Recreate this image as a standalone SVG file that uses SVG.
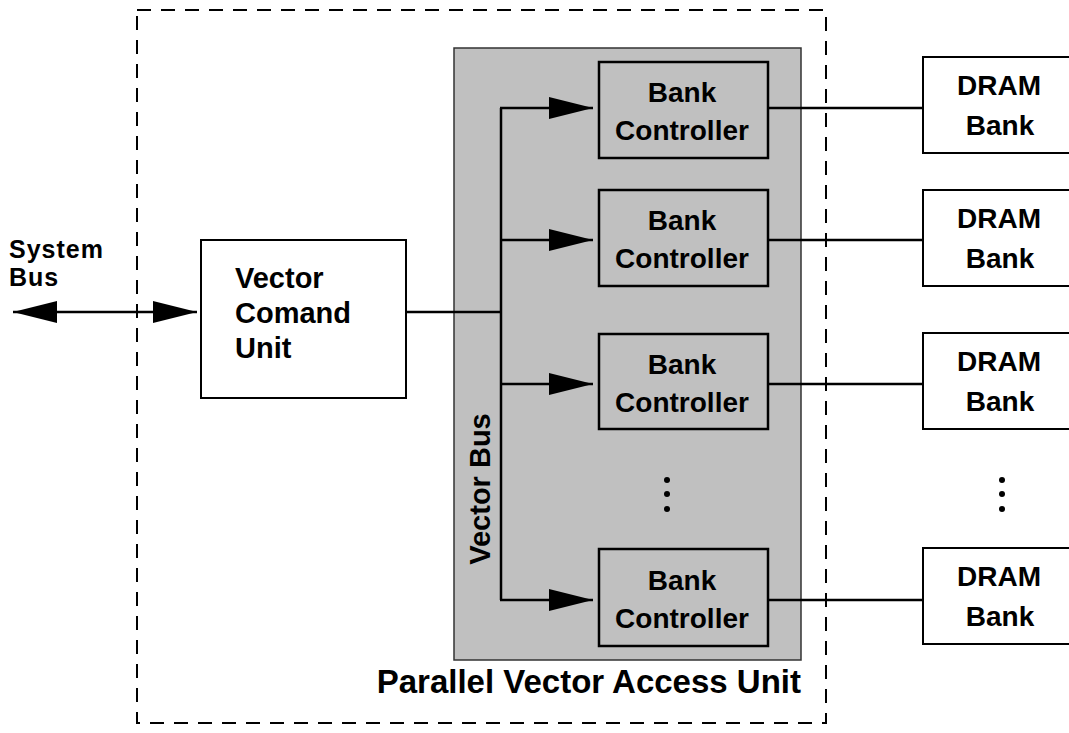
<svg xmlns="http://www.w3.org/2000/svg" width="1069" height="733" viewBox="0 0 1069 733">
<defs>
<style>
text{font-family:"Liberation Sans",Arial,sans-serif;font-weight:bold;fill:#000}
.box{fill:#fff;stroke:#000;stroke-width:2}
.bc{fill:#c0c0c0;stroke:#000;stroke-width:2.5}
.ln{fill:none;stroke:#000;stroke-width:2.5}
.t28{font-size:28px;text-anchor:middle}
.sb{font-size:25px;letter-spacing:1px}
</style>
<marker id="ah" viewBox="0 0 44 22" refX="44" refY="11" markerWidth="44" markerHeight="22" markerUnits="userSpaceOnUse" orient="auto-start-reverse">
<path d="M0,0 L44,11 L0,22 Z" fill="#000"/>
</marker>
</defs>
<rect x="0" y="0" width="1069" height="733" fill="#fff"/>
<rect id="boundary" x="137" y="10" width="689" height="713" fill="none" stroke="#000" stroke-width="2" stroke-dasharray="14,10"/>
<g id="pvau">
<rect x="454" y="48" width="347" height="612" fill="#c0c0c0" stroke="#333" stroke-width="1.5"/>
<text x="801" y="693" style="font-size:33px;text-anchor:end">Parallel Vector Access Unit</text>
</g>
<g id="vcu">
<rect class="box" x="201" y="240" width="205" height="158"/>
<text x="235" y="288" style="font-size:29px">Vector</text>
<text x="235" y="323" style="font-size:29px">Comand</text>
<text x="235" y="358" style="font-size:29px">Unit</text>
</g>
<g id="sysbus">
<text class="sb" x="9" y="258">System</text>
<text class="sb" x="9" y="286">Bus</text>
</g>
<g id="bc1"><rect class="bc" x="599" y="62" width="169" height="96"/><text class="t28" x="682" y="102">Bank</text><text class="t28" x="682" y="140">Controller</text></g>
<g id="bc2"><rect class="bc" x="599" y="190" width="169" height="96"/><text class="t28" x="682" y="230">Bank</text><text class="t28" x="682" y="268">Controller</text></g>
<g id="bc3"><rect class="bc" x="599" y="334" width="169" height="95"/><text class="t28" x="682" y="374">Bank</text><text class="t28" x="682" y="412">Controller</text></g>
<g id="bc4"><rect class="bc" x="599" y="549" width="169" height="97"/><text class="t28" x="682" y="590">Bank</text><text class="t28" x="682" y="628">Controller</text></g>
<g id="dram1"><rect class="box" x="923" y="57" width="160" height="96"/><text class="t28" x="999" y="95">DRAM</text><text class="t28" x="1000" y="135">Bank</text></g>
<g id="dram2"><rect class="box" x="923" y="190" width="160" height="96"/><text class="t28" x="999" y="228">DRAM</text><text class="t28" x="1000" y="268">Bank</text></g>
<g id="dram3"><rect class="box" x="923" y="333" width="160" height="96"/><text class="t28" x="999" y="371">DRAM</text><text class="t28" x="1000" y="411">Bank</text></g>
<g id="dram4"><rect class="box" x="923" y="548" width="160" height="96"/><text class="t28" x="999" y="586">DRAM</text><text class="t28" x="1000" y="626">Bank</text></g>
<g id="dots">
<circle cx="667" cy="480" r="3"/><circle cx="667" cy="494" r="3"/><circle cx="667" cy="509" r="3"/>
<circle cx="1002" cy="480" r="3"/><circle cx="1002" cy="494" r="3"/><circle cx="1002" cy="509" r="3"/>
</g>
<g id="connectors">
<line class="ln" x1="13" y1="312" x2="197" y2="312" marker-start="url(#ah)" marker-end="url(#ah)"/>
<line class="ln" x1="406" y1="312" x2="501" y2="312"/>
<line class="ln" x1="501" y1="108" x2="501" y2="600"/>
<line class="ln" x1="500" y1="108" x2="593" y2="108" marker-end="url(#ah)"/>
<line class="ln" x1="500" y1="240" x2="593" y2="240" marker-end="url(#ah)"/>
<line class="ln" x1="500" y1="384" x2="593" y2="384" marker-end="url(#ah)"/>
<line class="ln" x1="500" y1="600" x2="593" y2="600" marker-end="url(#ah)"/>
<line class="ln" x1="768" y1="108" x2="923" y2="108"/>
<line class="ln" x1="768" y1="240" x2="923" y2="240"/>
<line class="ln" x1="768" y1="384" x2="923" y2="384"/>
<line class="ln" x1="768" y1="600" x2="923" y2="600"/>
<text transform="translate(490,489) rotate(-90)" style="font-size:29px;text-anchor:middle">Vector Bus</text>
</g>
</svg>
